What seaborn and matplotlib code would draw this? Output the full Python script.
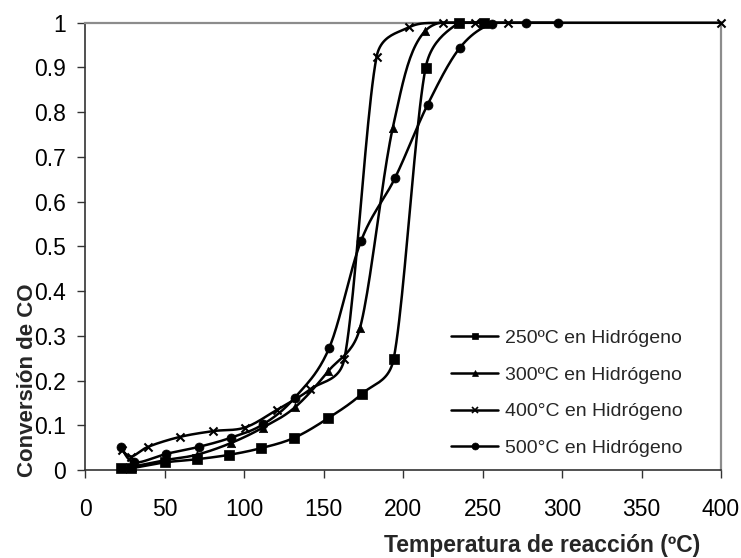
import numpy as np
import pandas as pd
import matplotlib
matplotlib.use("Agg")
import matplotlib.pyplot as plt
import seaborn as sns
from matplotlib.lines import Line2D

# ---- data ----
labels = ["250ºC en Hidrógeno", "300ºC en Hidrógeno", "400°C en Hidrógeno", "500°C en Hidrógeno"]

t250 = [22.6, 29, 50.3, 70.2, 90.8, 110.9, 131.6, 153, 174, 194.1, 214.2, 235, 251]
c250 = [0.005, 0.004, 0.017, 0.024, 0.034, 0.049, 0.072, 0.116, 0.170, 0.248, 0.899, 1.0, 1.0]

t300 = [29.3, 50.3, 70.2, 91.6, 112, 132, 153, 173, 193.5, 213.8, 253]
c300 = [0.007, 0.022, 0.034, 0.060, 0.095, 0.140, 0.221, 0.318, 0.764, 0.981, 1.0]

t400 = [23, 29, 39.8, 59.7, 80.7, 100.6, 120.5, 141.5, 163.1, 183.4, 204, 225.4, 245.3, 266.2, 400]
c400 = [0.045, 0.030, 0.052, 0.074, 0.087, 0.095, 0.134, 0.180, 0.248, 0.924, 0.990, 1.0, 1.0, 1.0, 1.0]

t500 = [22.6, 31, 51, 71.9, 91.6, 112, 132, 153.6, 173.6, 195, 215.5, 235.8, 256, 277.4, 297.7]
c500 = [0.052, 0.017, 0.036, 0.052, 0.072, 0.102, 0.162, 0.273, 0.512, 0.653, 0.817, 0.944, 0.998, 1.0, 1.0]

markers = ["s", "^", "x", "o"]
xticks = [0, 50, 100, 150, 200, 250, 300, 350, 400]
yticks = [0, 0.1, 0.2, 0.3, 0.4, 0.5, 0.6, 0.7, 0.8, 0.9, 1.0]
ytick_labels = ["0", "0.1", "0.2", "0.3", "0.4", "0.5", "0.6", "0.7", "0.8", "0.9", "1"]

# approximate display scale (px per data unit), used only for curve smoothing shape
SX, SY = 1.59, 447.0


def smooth(x, y, n=24):
    pts = np.column_stack([np.asarray(x, float) * SX, np.asarray(y, float) * SY])
    P = np.vstack([pts[0], pts, pts[-1]])
    out = []
    for i in range(1, len(P) - 2):
        p0, p1, p2, p3 = P[i - 1], P[i], P[i + 1], P[i + 2]
        d = np.linalg.norm(p2 - p1)
        v1 = (p2 - p0) / 6.0
        v2 = (p3 - p1) / 6.0
        for v in (v1, v2):
            nv = np.linalg.norm(v)
            if nv > 0.5 * d and nv > 0:
                v *= 0.5 * d / nv
        c1 = p1 + v1
        c2 = p2 - v2
        t = np.linspace(0, 1, n)[:, None]
        seg = (1 - t) ** 3 * p1 + 3 * (1 - t) ** 2 * t * c1 + 3 * (1 - t) * t ** 2 * c2 + t ** 3 * p2
        out.append(seg if i == 1 else seg[1:])
    c = np.vstack(out)
    c[:, 0] /= SX
    c[:, 1] /= SY
    c[:, 1] = np.minimum(c[:, 1], 1.0)
    return c


sns.set_style("white")
plt.rcParams["font.family"] = ["Liberation Sans", "DejaVu Sans"]

fig = plt.figure(figsize=(7.41, 5.58), dpi=100)
ax = fig.add_axes([85 / 741, 1 - 470 / 558, 636 / 741, (470 - 22.7) / 558])

series = [(t250, c250), (t300, c300), (t400, c400), (t500, c500)]
msizes = [42, 36, 34, 42]
for (tx, cy), mk, ms, lab in zip(series, markers, msizes, labels):
    curve = smooth(tx, cy)
    df = pd.DataFrame({"T": curve[:, 0], "X": curve[:, 1]})
    sns.lineplot(data=df, x="T", y="X", sort=False, estimator=None, color="black",
                 linewidth=1.8, ax=ax, legend=False, clip_on=False, zorder=3)
    pts = pd.DataFrame({"T": tx, "X": cy})
    if mk == "x":
        sns.scatterplot(data=pts, x="T", y="X", marker=mk, color="black", s=ms,
                        linewidth=1.5, ax=ax, legend=False, clip_on=False, zorder=4)
    else:
        sns.scatterplot(data=pts, x="T", y="X", marker=mk, color="black", s=ms,
                        edgecolor="black", linewidth=0.5, ax=ax, legend=False,
                        clip_on=False, zorder=4)

ax.set_xlim(0, 400)
ax.set_ylim(0, 1)
ax.set_xticks(xticks)
ax.set_xticklabels([str(v) for v in xticks])
ax.set_yticks(yticks)
ax.set_yticklabels(ytick_labels)
ax.tick_params(axis="both", which="both", direction="out", length=6, width=1,
               color="#333333", labelsize=16.5, labelcolor="black")
ax.tick_params(axis="x", pad=14, bottom=True)
ax.tick_params(axis="y", pad=8, left=True)

for s in ["top", "right"]:
    ax.spines[s].set_color("#8c8c8c")
    ax.spines[s].set_linewidth(1.6)
for s in ["left", "bottom"]:
    ax.spines[s].set_color("#333333")
    ax.spines[s].set_linewidth(1.2)

ax.set_xlabel("Temperatura de reacción (ºC)", fontsize=16.5, fontweight="bold")
ax.set_ylabel("Conversión de CO", fontsize=16, fontweight="bold")
ax.xaxis.set_label_coords(0.719, -0.168)
ax.yaxis.set_label_coords(-0.091, 0.2)
ax.xaxis.label.set_va("center")
ax.yaxis.label.set_va("center")

handles = [Line2D([0], [0], color="black", linewidth=1.8, marker=m,
                  markersize=(5 if m != "x" else 4), markeredgewidth=(1.2 if m == "x" else 0.5))
           for m in markers]
ax.legend(handles, labels, loc="upper left", bbox_to_anchor=(0.575, 0.314),
          frameon=False, fontsize=14, handlelength=2.45, handletextpad=0.35,
          labelspacing=0.98, borderpad=0, borderaxespad=0)

fig.savefig("out.png", dpi=100)
